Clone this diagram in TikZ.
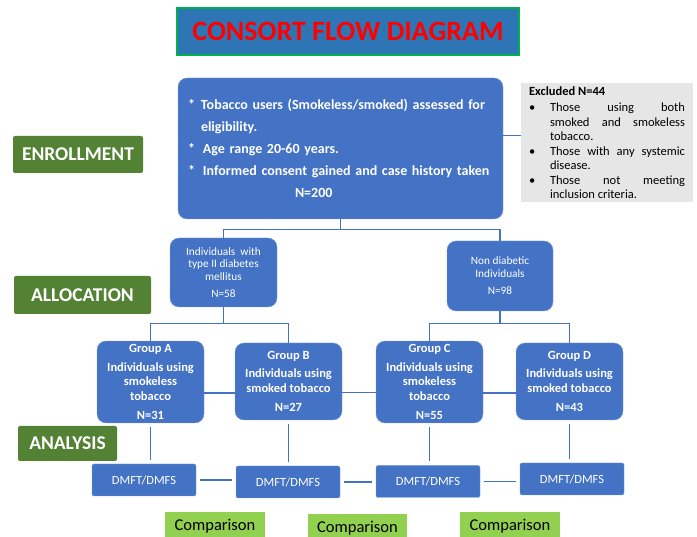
\documentclass[tikz,border=0pt]{standalone}
\usepackage{fontspec}
\setmainfont{Carlito}
\usetikzlibrary{calc}
\definecolor{boxblue}{HTML}{4472C4}
\definecolor{titleblue}{HTML}{2E75B6}
\definecolor{titlegreen}{HTML}{00B050}
\definecolor{stagegreen}{HTML}{548235}
\definecolor{cmpgreen}{HTML}{92D050}
\definecolor{exclgray}{HTML}{E7E6E6}
\newcommand{\exlabel}[1]{#1\hfil}
\tikzset{
 bluebox/.style={fill=boxblue, draw=boxblue!70!white, rounded corners=9pt, text=white, align=center},
 stagebox/.style={fill=stagegreen, rounded corners=2pt, text=white, font=\fontsize{19.5}{22}\selectfont\bfseries},
 dmftbox/.style={fill=boxblue, draw=boxblue!70!white, rounded corners=2pt, text=white, minimum width=104, minimum height=32, font=\fontsize{12.5}{15}\selectfont},
 cmpbox/.style={fill=cmpgreen, minimum width=100, minimum height=28, font=\fontsize{16.5}{18}\selectfont},
 link/.style={draw=boxblue, line width=1.1pt}
}

\begin{document}
\begin{tikzpicture}[x=1pt, y=-1pt]
\useasboundingbox (0,0) rectangle (697,537);
\node[fill=titleblue, draw=titlegreen, line width=2.5pt, minimum width=342, minimum height=47, text=red,
 font=\fontsize{28}{30}\selectfont\bfseries] (title) at (348,31.5) {CONSORT FLOW DIAGRAM};

\node[bluebox, align=left, text width=305pt, inner xsep=10pt, minimum height=141, font=\fontsize{14}{22}\selectfont\bfseries] (main) at (340.5,148.5)
 {\makebox[13pt][l]{*}Tobacco users (Smokeless/smoked) assessed for\\
  \hspace*{13pt}eligibility.\\
  \makebox[15pt][l]{*}Age range 20-60 years.\\
  \makebox[15pt][l]{*}Informed consent gained and case history taken\\
  \hspace*{107pt}N=200};

\node[fill=exclgray, text width=156pt, inner xsep=8pt, minimum height=119, align=justify,
 font=\fontsize{12.5}{14.5}\selectfont] (excl) at (607,142.5)
 {\hyphenpenalty=10000\relax
  {\bfseries Excluded N=44}\par
  \begin{list}{\textbullet}{\leftmargin=21pt \labelwidth=21pt \labelsep=0pt \itemsep=0pt \parsep=0pt \topsep=0pt
   \let\makelabel\exlabel}
  \item Those using both\linebreak smoked and smokeless\linebreak tobacco.
  \item Those with any systemic\linebreak disease.
  \item Those not meeting\linebreak inclusion criteria.
  \end{list}};

\node[stagebox, minimum width=130, minimum height=37] (enrol) at (78,154.5) {ENROLLMENT};
\node[stagebox, minimum width=137, minimum height=38] (alloc) at (82.5,295) {ALLOCATION};
\node[stagebox, minimum width=99, minimum height=35] (anal) at (67.5,443.5) {ANALYSIS};

\node[bluebox, minimum width=107, minimum height=69, font=\fontsize{11.3}{12.5}\selectfont] (diab) at (223.5,272.5)
 {Individuals\ \ with\\type II diabetes\\mellitus\\[5pt]N=58};
\node[bluebox, minimum width=106, minimum height=70, font=\fontsize{11.3}{12.5}\selectfont] (nond) at (500,276)
 {Non diabetic\\Individuals\\[5pt]N=98};

\foreach \g/\x/\y/\h/\kind/\n in {A/150.5/382/81/{smokeless\\tobacco}/31, B/288.5/381.5/77/{smoked tobacco}/27,
 C/429.5/382/80/{smokeless\\tobacco}/55, D/569.5/381.5/77/{smoked tobacco}/43}
 \node[bluebox, minimum width=107, minimum height=\h, font=\fontsize{12.5}{14.5}\selectfont\bfseries] (grp\g) at (\x,\y)
  {Group \g\\[4pt]Individuals using\\\kind\\[5pt]N=\n};

\foreach \g/\x/\y in {A/144/480, B/288/482, C/428/481.5, D/572/479}
 \node[dmftbox] (dmft\g) at (\x,\y) {DMFT/DMFS};

\node[cmpbox] (cmpA) at (215,526) {Comparison};
\node[cmpbox, minimum width=99] (cmpB) at (357.5,528) {Comparison};
\node[cmpbox] (cmpC) at (510,526) {Comparison};

\draw[link] ([yshift=13pt]main.east) -- ([yshift=13pt]main.east -| excl.west);
\draw[link] (main.south) -- ++(0,10) coordinate (split) -| (diab.north);
\draw[link] (split) -| (nond.north);
\draw[link] (diab.south) -- ++(0,16) coordinate (splitd) -| (grpA.north);
\draw[link] (splitd) -| (grpB.north);
\draw[link] (nond.south) -- ++(0,12) coordinate (splitn) -| (grpC.north);
\draw[link] (splitn) -| (grpD.north);

\foreach \a/\b in {A/B, B/C, C/D} {
 \draw[link] ([yshift=-11pt]grp\a.east) -- ([yshift=-11pt]grp\a.east -| grp\b.west);
 \draw[link, shorten <=4pt, shorten >=4pt] (dmft\a.east) -- (dmft\a.east -| dmft\b.west);
}
\foreach \g in {A,B,C,D}
 \draw[link, line width=0.8pt, shorten <=4pt, shorten >=4pt] (grp\g.south) -- (grp\g.south |- dmft\g.north);
\end{tikzpicture}
\end{document}
